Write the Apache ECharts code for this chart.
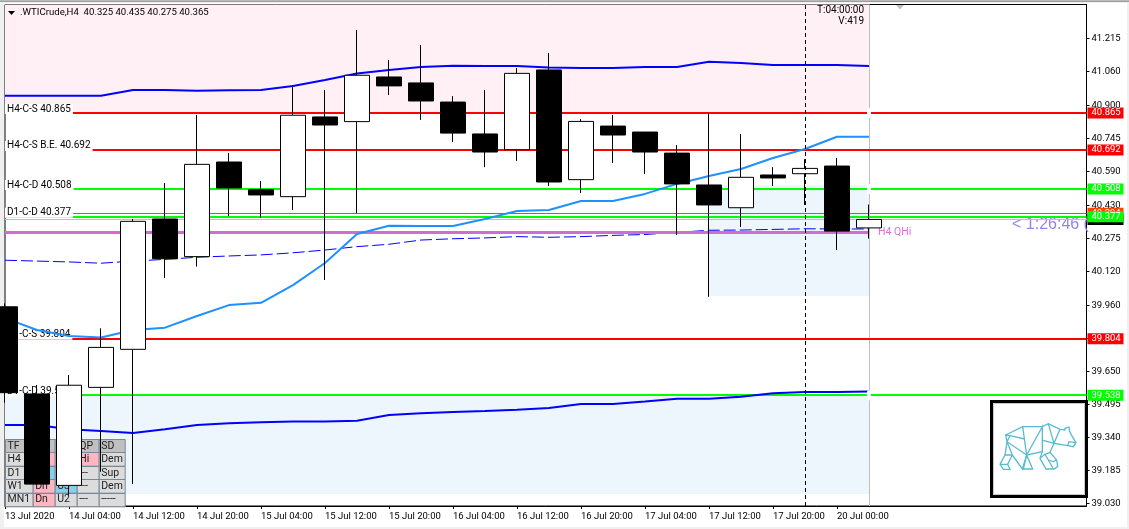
<!DOCTYPE html>
<html><head><meta charset="utf-8">
<style>
html,body{margin:0;padding:0;background:#f0f0f0;width:1129px;height:529px;overflow:hidden}
#frame{position:absolute;left:4px;top:3px;width:1123px;height:524px;background:#fff}
#bar{position:absolute;left:0;top:0;width:1129px;height:2px;background:linear-gradient(#c8c8c8,#909090)}
#main{position:absolute;left:0;top:0;width:1129px;height:529px}
</style>
<script src="https://cdn.jsdelivr.net/npm/echarts@6/dist/echarts.min.js"></script>
</head><body>
<div id="frame"></div><div id="bar"></div><div id="main"></div>
<script>
const FONT = 'Roboto,"Liberation Sans",sans-serif';
const timeLabels = ['13 Jul 2020','14 Jul 04:00','14 Jul 12:00','14 Jul 20:00','15 Jul 04:00','15 Jul 12:00','15 Jul 20:00','16 Jul 04:00','16 Jul 12:00','16 Jul 20:00','17 Jul 04:00','17 Jul 12:00','17 Jul 20:00','20 Jul 00:00'];
const priceTicks = [41.215,41.06,40.9,40.745,40.59,40.43,40.275,40.12,39.96,39.805,39.65,39.495,39.34,39.185,39.03];
const open  = [39.954,39.544,39.114,39.575,39.754,40.367,40.190,40.635,40.505,40.472,40.847,40.825,41.035,41.007,40.917,40.767,40.693,41.068,40.552,40.804,40.776,40.677,40.527,40.420,40.574,40.580,40.616,40.325];
const close = [39.550,39.120,39.585,39.763,40.356,40.180,40.624,40.513,40.480,40.855,40.809,41.043,40.993,40.922,40.771,40.682,41.052,40.541,40.826,40.762,40.682,40.532,40.433,40.563,40.560,40.605,40.310,40.365];
const low   = [39.503,39.120,39.069,39.178,39.120,40.089,40.143,40.381,40.372,40.409,40.080,40.394,40.950,40.833,40.729,40.611,40.640,40.522,40.489,40.630,40.579,40.292,40.001,40.329,40.522,40.433,40.221,40.275];
const high  = [39.970,39.586,39.633,39.853,40.367,40.536,40.856,40.677,40.546,40.997,40.974,41.256,41.115,41.185,40.945,40.974,41.077,41.148,40.837,40.856,40.776,40.715,40.864,40.767,40.611,40.648,40.654,40.435];
const upperBand = [40.947,40.947,40.947,40.947,40.974,40.974,40.970,40.972,40.974,40.993,41.021,41.051,41.068,41.082,41.088,41.087,41.087,41.079,41.077,41.077,41.082,41.082,41.107,41.101,41.091,41.091,41.091,41.087];
const lowerBand = [39.398,39.398,39.378,39.370,39.360,39.378,39.398,39.406,39.411,39.414,39.415,39.418,39.445,39.453,39.459,39.464,39.470,39.478,39.497,39.497,39.509,39.522,39.522,39.531,39.547,39.553,39.553,39.555];
const midLine   = [39.901,39.845,39.817,39.810,39.845,39.856,39.911,39.962,39.973,40.056,40.160,40.296,40.335,40.334,40.334,40.367,40.405,40.409,40.452,40.452,40.485,40.532,40.569,40.602,40.654,40.696,40.754,40.754];
const dashLine  = [40.173,40.169,40.165,40.159,40.169,40.177,40.187,40.193,40.198,40.208,40.221,40.237,40.248,40.268,40.274,40.278,40.284,40.281,40.284,40.290,40.294,40.304,40.314,40.315,40.318,40.321,40.320,40.320];
const levelValues = [40.865,40.692,40.508,40.377,39.804,39.538];
const levelNames  = ['H4-C-S 40.865','H4-C-S B.E. 40.692','H4-C-D 40.508','D1-C-D 40.377','D1-C-S 39.804','D1-C-D 39.538'];
const levelColors = ['#ff0000','#ff0000','#00ff00','#00ff00','#ff0000','#00ff00'];
const orangeLevel = 40.394, lastPrice = 40.365, qHi = 40.304;
const title = '.WTICrude,H4  40.325 40.435 40.275 40.365';
const tableRows = [['TF','Tr','Lv','QP','SD'],['H4','Dn','Dn','Hi','Dem'],['D1','Up','U1','---','Sup'],['W1','Dn','U3','---','Dem'],['MN1','Dn','U2','---','-----']];
const tableFills = [['h','h','h','h','h'],['b','p','p','p','b'],['b','s','s','b','b'],['b','p','s','b','b'],['b','p','b','b','b']];

const xs = open.map((_, i) => i);
const GR = {left:5, top:4.5, right:42.5, bottom:23};
const XMAX = 1081.5/32;
const YMIN = 39.017, YMAX = 41.3759;
const pair = arr => arr.map((v,i)=>[i,v]);

const tagLabel = (color,v) => ({show:true, position:'end', distance:1, formatter:v.toFixed(3), color:'#fff',
  backgroundColor:color, padding:[1,0,0,4], width:32, height:10, lineHeight:10, align:'left', verticalAlign:'middle', fontFamily:FONT, fontSize:9.5});
const tagLine = (v,color,width) => ({yAxis:v, lineStyle:{color,width,type:'solid'}, label:tagLabel(color,v)});
const plainLbl = {show:false};

const series = [
 {type:'line', data:[], z:0, silent:true, markArea:{z:0, silent:true, data:[
   [{coord:[0,YMAX],itemStyle:{color:'#fff0f5'}},{coord:[27,40.865]}],
   [{coord:[0,39.538],itemStyle:{color:'#eef6fd'}},{coord:[27,39.073]}],
   [{coord:[22,40.527],itemStyle:{color:'#eef6fd'}},{coord:[27,40.005]}]
 ]}},
 {type:'line', data:[], z:3, silent:true, markLine:{z:3, precision:3, silent:true, symbol:'none', animation:false, data:[
   {yAxis:lastPrice, lineStyle:{color:'#c0c0c0',width:1,type:'solid'}, label:tagLabel('#000',lastPrice)},
   tagLine(orangeLevel,'#ff4500',1),
   [{coord:[0,qHi],lineStyle:{color:'#cf6dd0',width:3,type:'solid'},label:plainLbl},{coord:[27,qHi]}],
   {xAxis:27, lineStyle:{color:'#c0c0c0',width:1,type:'solid'}, label:plainLbl},
   ...levelValues.map((v,i)=>tagLine(v,levelColors[i],2))
 ]}},
 {type:'line', data:[], z:3, silent:true, markLine:{z:3, precision:3, silent:true, symbol:'none', animation:false, data:
   levelValues.map((v,i)=>({yAxis:v, name:levelNames[i], lineStyle:{color:'rgba(0,0,0,0)',width:0},
     label:{show:true, position:'insideStartTop', distance:[0,-1], formatter:levelNames[i], color:'#000', backgroundColor:'#fff',
       padding:[0,2,0,2], fontFamily:FONT, fontSize:10}}))
 }},
 {type:'line', data:pair(upperBand), z:4, symbol:'none', silent:true, lineStyle:{color:'#0000ff',width:2}},
 {type:'line', data:pair(lowerBand), z:4, symbol:'none', silent:true, lineStyle:{color:'#0000ff',width:2}},
 {type:'line', data:pair(midLine), z:4, symbol:'none', silent:true, lineStyle:{color:'#1e90ff',width:2}},
 {type:'line', data:pair(dashLine), z:2, symbol:'none', silent:true, lineStyle:{color:'#0000ff',width:1,type:[12,4]}},
 {type:'scatter', z:5, silent:true, symbol:'roundRect', symbolSize:[4,10], itemStyle:{color:'#fff',opacity:1},
   data:[[27,levelValues[0]],[27,levelValues[2]],[27,levelValues[5]]]},
 {type:'candlestick', z:10, silent:true, barWidth:25, clip:true,
   data:xs.map(i=>[i,open[i],close[i],low[i],high[i]]),
   itemStyle:{color:'#fff',color0:'#000',borderColor:'#000',borderColor0:'#000',borderWidth:1}},
 {type:'line', data:[], z:11, silent:true, markLine:{z:11, silent:true, symbol:'none', animation:false, data:[
   {xAxis:25, lineStyle:{color:'#000',width:1,type:[4,3]}, label:plainLbl}
 ]}}
];

// fixed chrome: title, table, timer, logo
const g = [];
const txt = (x,y,t,o={}) => g.push({type:'text', x, y, z:o.z||1, silent:true, style:{text:t, fill:o.fill||'#000', font:o.font||('9.5px '+FONT), textAlign:o.align||'left', textVerticalAlign:'middle'}});
g.push({type:'polygon', z:12, silent:true, shape:{points:[[8,11],[15,11],[11.5,15]]}, style:{fill:'#000'}});
txt(20,12.5,title,{z:12,font:'9.6px '+FONT});
txt(864,10.5,'T:04:00:00',{z:12,align:'right',font:'10px '+FONT});
txt(864,21.5,'V:419',{z:12,align:'right',font:'10px '+FONT});
g.push({type:'polygon', z:12, silent:true, shape:{points:[[896,5],[904,5],[900,9.5]]}, style:{fill:'#c0c0c0'}});
txt(878,232,'H4 QHi',{z:1,fill:'#da70d6',font:'10.5px '+FONT});
txt(1012,224.5,'< 1:26:46 (',{z:1,fill:'#8f85f0',font:'16px "Liberation Sans",sans-serif'});
const colX=[5,32.7,54.7,76.7,98.7,124.7], rowY=[439,452.3,466,479,492.7,506];
const fills={h:'#c0c0c0',b:'#dcdcdc',p:'#ffb6c1',s:'#87ceeb'};
tableRows.forEach((row,r)=>row.forEach((c,k)=>{
  g.push({type:'rect', z:1, silent:true, shape:{x:colX[k]+.5,y:Math.round(rowY[r])+.5,width:colX[k+1]-colX[k],height:rowY[r+1]-rowY[r]},
    style:{fill:fills[tableFills[r][k]],stroke:'#778899',lineWidth:1}});
}));
tableRows.forEach((row,r)=>row.forEach((c,k)=>{
  txt(colX[k]+2.5,(rowY[r]+rowY[r+1])/2+.5,c,{z:2,fill:'#222',font:'10.5px '+FONT});
}));
// logo box
g.push({type:'rect', z:12, silent:true, shape:{x:991.5,y:401.5,width:95,height:95}, style:{fill:'#fff',stroke:'#000',lineWidth:3}});
g.push({type:'rect', z:12, silent:true, shape:{x:993.5,y:403.5,width:91,height:91}, style:{fill:'none',stroke:'#c8c8c8',lineWidth:1}});
const P=(x,y)=>[985+x/3,395+y/3];
const bear=[
 [[62,120],[113,95],[172,95],[190,86],[225,103],[240,105],[240,100],[252,96],[254,110],[262,125],[273,143],[265,155],[248,152],[207,145],[195,172],[215,195],[218,215],[207,222],[183,222],[165,190],[172,170],[125,180],[143,222],[115,222],[125,180],[66,140],[62,120],[75,122],[66,140],[60,180],[45,208],[55,223],[75,223],[68,208],[45,208]],
 [[113,95],[125,180],[172,95],[172,170]],[[190,86],[207,145],[225,103]],[[172,135],[207,145]],[[75,122],[119,132]],
 [[60,180],[82,180],[66,140]],[[82,180],[68,208]],[[82,180],[112,222],[125,180]],[[112,222],[115,222]],
 [[195,172],[180,178],[190,195],[205,222]],[[180,178],[165,190]],[[215,195],[205,200],[190,195]],[[248,152],[252,140],[273,143]]
];
bear.forEach(l=>g.push({type:'polyline', z:13, silent:true, shape:{points:l.map(p=>P(p[0],p[1]))}, style:{stroke:'#58bccc',lineWidth:1.3,fill:'none'}}));

const chart = echarts.init(document.getElementById('main'), null, {renderer:'canvas'});
chart.setOption({
  animation:false, backgroundColor:'transparent',
  grid:{...GR, show:true, borderColor:'#000', borderWidth:1, backgroundColor:'transparent', containLabel:false},
  xAxis:{type:'value', min:0, max:XMAX, splitLine:{show:false},
    axisLine:{show:true,lineStyle:{color:'#000',width:1}},
    axisTick:{show:true,length:3,inside:false,lineStyle:{color:'#000'},customValues:timeLabels.map((_,i)=>i*2)},
    axisLabel:{show:true,align:'left',margin:6,color:'#000',fontFamily:FONT,fontSize:9.5,hideOverlap:false,showMinLabel:true,
      customValues:timeLabels.map((_,i)=>i*2), formatter:v=>timeLabels[Math.round(v/2)]||''}},
  yAxis:{type:'value', position:'right', min:YMIN, max:YMAX, splitLine:{show:false},
    axisLine:{show:true,onZero:false,lineStyle:{color:'#000',width:1}},
    axisTick:{show:true,length:3,lineStyle:{color:'#000'},customValues:priceTicks},
    axisLabel:{show:true,margin:5,color:'#000',fontFamily:FONT,fontSize:9.5,align:'left',hideOverlap:false,customValues:priceTicks,formatter:v=>v.toFixed(3)}},
  series, graphic:{elements:g}
});
</script>
</body></html>
